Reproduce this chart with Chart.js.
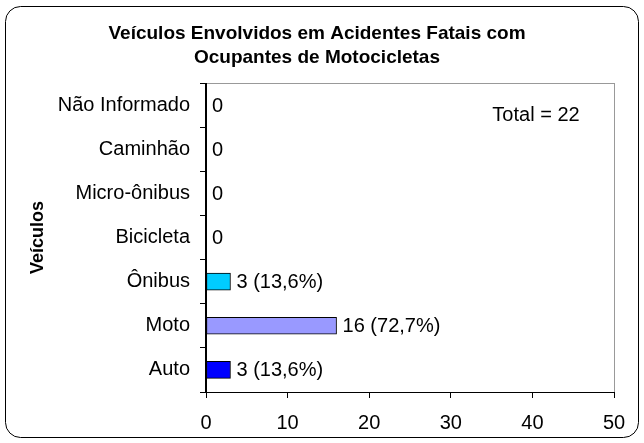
<!DOCTYPE html>
<html>
<head>
<meta charset="utf-8">
<script src="https://cdn.jsdelivr.net/npm/chart.js@4"></script>
<style>
  body { margin: 0; background: #fff; }
  #wrap { width: 644px; height: 443px; }
</style>
</head>
<body>
<div id="wrap"><canvas id="chart" width="644" height="443"></canvas></div>
<script>
/* --------------- Data --------------------- */
const categories = ["Não Informado", "Caminhão", "Micro-ônibus", "Bicicleta", "Ônibus", "Moto", "Auto"];
const values = [0, 0, 0, 0, 3, 16, 3];
const barColors = ["#FFFFFF", "#FFFFFF", "#FFFFFF", "#FFFFFF", "#00CCFF", "#9999FF", "#0000FF"];
const xTicks = [0, 10, 20, 30, 40, 50];
const titleLines = ["Veículos Envolvidos em Acidentes Fatais com", "Ocupantes de Motocicletas"];
const total = values.reduce((a, b) => a + b, 0);

const FONT = "'Liberation Sans', Arial, sans-serif";
const TXT = 20;

/* --------------- Frame, title, plot border --------------------- */
const decorPlugin = {
  id: "decor",
  beforeDraw(chart) {
    const ctx = chart.ctx;
    ctx.save();
    ctx.fillStyle = "#fff";
    ctx.fillRect(0, 0, chart.width, chart.height);
    ctx.strokeStyle = "#000";
    ctx.lineWidth = 1;
    ctx.beginPath();
    ctx.roundRect(5.5, 6.5, 633, 431, 15);
    ctx.stroke();
    ctx.restore();
  },
  afterDraw(chart) {
    const ctx = chart.ctx;
    const a = chart.chartArea;
    ctx.save();
    // gray top and right border of the plot
    ctx.fillStyle = "#999";
    ctx.fillRect(a.left, a.top, a.right - a.left + 1, 1);
    ctx.fillRect(a.right, a.top, 1, a.bottom - a.top);
    // black value axis line
    ctx.fillStyle = "#000";
    ctx.fillRect(Math.round(a.left) - 1, a.top, 2, a.bottom - a.top + 1);
    // title
    ctx.textAlign = "center";
    ctx.textBaseline = "middle";
    ctx.font = "bold 19px " + FONT;
    ctx.fillText(titleLines[0], 317, 34);
    ctx.fillText(titleLines[1], 317, 58);
    // total
    ctx.font = TXT + "px " + FONT;
    ctx.fillText("Total = " + total, 536, 115);
    ctx.restore();
  }
};

/* --------------- Value labels --------------------- */
const labelPlugin = {
  id: "barLabels",
  afterDatasetsDraw(chart) {
    const ctx = chart.ctx;
    const meta = chart.getDatasetMeta(0);
    ctx.save();
    ctx.fillStyle = "#000";
    ctx.font = TXT + "px " + FONT;
    ctx.textAlign = "left";
    ctx.textBaseline = "middle";
    meta.data.forEach((bar, i) => {
      const v = values[i];
      let txt = String(v);
      if (v > 0) txt += " (" + (v / total * 100).toFixed(1).replace(".", ",") + "%)";
      ctx.fillText(txt, bar.x + 6, bar.y + 1);
    });
    ctx.restore();
  }
};

new Chart(document.getElementById("chart"), {
  type: "bar",
  plugins: [decorPlugin, labelPlugin],
  data: {
    labels: categories,
    datasets: [{
      data: values,
      backgroundColor: barColors,
      borderColor: "#000",
      borderWidth: (c) => (values[c.dataIndex] === 0 ? 0 : 1),
      borderSkipped: false,
      barThickness: 17
    }]
  },
  options: {
    indexAxis: "y",
    responsive: false,
    animation: false,
    layout: { padding: { left: 0, right: 30, top: 83, bottom: 0 } },
    plugins: {
      legend: { display: false },
      tooltip: { enabled: false },
      title: { display: false }
    },
    scales: {
      x: {
        min: 0,
        max: 50,
        afterBuildTicks: (s) => { s.ticks = xTicks.map((v) => ({ value: v })); },
        afterFit: (s) => { s.height = 51; },
        grid: { drawOnChartArea: false, tickLength: 6, color: "#000" },
        border: { color: "#000" },
        ticks: { color: "#000", padding: 13, font: { family: FONT, size: TXT } }
      },
      y: {
        afterFit: (s) => { s.width = 206; },
        grid: { offset: true, drawOnChartArea: false, tickLength: 6, color: "#000" },
        border: { color: "#000" },
        ticks: { color: "#000", padding: 10, font: { family: FONT, size: TXT } },
        title: {
          display: true,
          text: "Veículos",
          color: "#000",
          font: { family: FONT, size: 18, weight: "bold" },
          padding: { top: 27, bottom: 0 }
        }
      }
    }
  }
});
</script>
</body>
</html>
